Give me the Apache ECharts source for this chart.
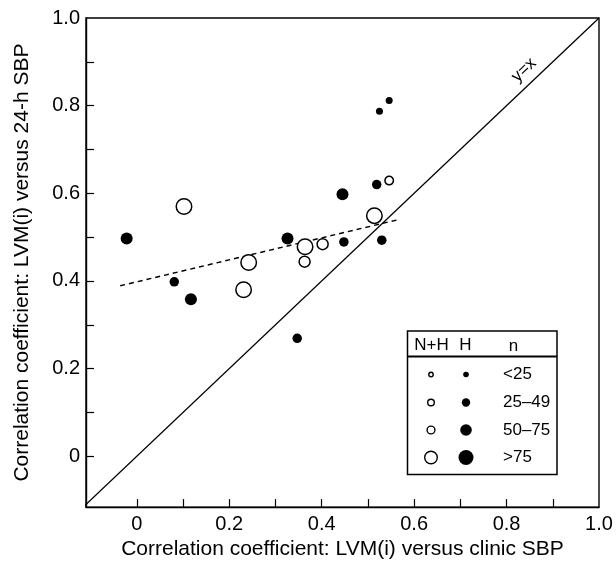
<!DOCTYPE html>
<html><head><meta charset="utf-8">
<script src="https://cdn.jsdelivr.net/npm/echarts@6/dist/echarts.min.js"></script>
<style>html,body{margin:0;padding:0;background:#fff}#c{width:616px;height:565px}</style>
</head><body><div id="c"></div>
<script>
// ---- data ----
const sizeClasses = ['<25', '25–49', '50–75', '>75'];
// Hypertensive (H) studies: filled circles
const hX = [-0.022, 0.081, 0.117, 0.326, 0.445, 0.448, 0.347, 0.519, 0.525, 0.546, 0.530];
const hY = [0.497, 0.398, 0.358, 0.497, 0.598, 0.489, 0.269, 0.620, 0.787, 0.812, 0.493];
const hN = ['50–75', '25–49', '50–75', '50–75', '50–75', '25–49', '25–49', '25–49', '<25', '<25', '25–49'];
// Normotensive + hypertensive (N+H) studies: open circles
const nhX = [0.102, 0.242, 0.231, 0.364, 0.363, 0.402, 0.514, 0.546];
const nhY = [0.570, 0.442, 0.380, 0.478, 0.444, 0.484, 0.549, 0.629];
const nhN = ['>75', '>75', '>75', '>75', '50–75', '50–75', '>75', '25–49'];
// regression (dashed) line endpoints
const regX = [-0.036, 0.566];
const regY = [0.389, 0.540];
// identity line
const idX = [-0.12, 1.0];
const idY = [-0.12, 1.0];
// axis ticks / labels
const xTicks = [0, 0.1, 0.2, 0.3, 0.4, 0.5, 0.6, 0.7, 0.8, 0.9];
const yTicks = [0, 0.1, 0.2, 0.3, 0.4, 0.5, 0.6, 0.7, 0.8, 0.9];
const xLabels = [0, 0.2, 0.4, 0.6, 0.8, 1.0];
const yLabels = [0, 0.2, 0.4, 0.6, 0.8, 1.0];
const xTitle = 'Correlation coefficient: LVM(i) versus clinic SBP';
const yTitle = 'Correlation coefficient: LVM(i) versus 24-h SBP';

// ---- styles ----
const FONT = 'Liberation Sans, Arial, sans-serif';
const openSize = {'<25': 4.5, '25–49': 8.5, '50–75': 11, '>75': 15.5};
const filledSize = {'<25': 7, '25–49': 9.5, '50–75': 12, '>75': 15};
const legOpenR = [2.2, 3.3, 3.9, 6.3];
const legFilledR = [2.8, 4.2, 5.8, 7.5];
const fmt = v => (Math.abs(v) < 1e-9 ? '0' : v.toFixed(1));

const chart = echarts.init(document.getElementById('c'), null, {renderer: 'canvas'});

const legendRowsY = [374.5, 402.5, 430, 457.5];
const legendEls = [
  {type: 'rect', shape: {x: 407.5, y: 331, width: 149.5, height: 143.5},
   style: {fill: '#fff', stroke: '#000', lineWidth: 1.5}, z: 100},
  {type: 'line', shape: {x1: 407.5, y1: 356.5, x2: 557, y2: 356.5},
   style: {stroke: '#000', lineWidth: 2}, z: 101},
  {type: 'text', x: 431.5, y: 345, style: {text: 'N+H', font: '17px ' + FONT, fill: '#000', align: 'center', verticalAlign: 'middle'}, z: 101},
  {type: 'text', x: 465.5, y: 345, style: {text: 'H', font: '17px ' + FONT, fill: '#000', align: 'center', verticalAlign: 'middle'}, z: 101},
  {type: 'text', x: 513.5, y: 346, style: {text: 'n', font: '17px ' + FONT, fill: '#000', align: 'center', verticalAlign: 'middle'}, z: 101},
  {type: 'text', x: 524, y: 70, rotation: 0.763,
   style: {text: 'y=x', font: '17px ' + FONT, fill: '#000', align: 'center', verticalAlign: 'middle'}, z: 101}
];
sizeClasses.forEach((c, i) => {
  legendEls.push({type: 'circle', shape: {cx: 431, cy: legendRowsY[i], r: legOpenR[i]},
    style: {fill: '#fff', stroke: '#000', lineWidth: 1.4}, z: 101});
  legendEls.push({type: 'circle', shape: {cx: 466, cy: legendRowsY[i], r: legFilledR[i]},
    style: {fill: '#000'}, z: 101});
  legendEls.push({type: 'text', x: 503, y: legendRowsY[i],
    style: {text: c, font: '17px ' + FONT, fill: '#000', align: 'left', verticalAlign: 'middle'}, z: 101});
});

const axisCommon = {
  axisLine: {show: true, onZero: false, lineStyle: {color: '#000', width: 1.4}},
  axisTick: {show: true, inside: true, length: 8, lineStyle: {color: '#000', width: 1.2}},
  splitLine: {show: false},
  nameLocation: 'middle',
  nameTextStyle: {color: '#000', fontSize: 21, fontFamily: FONT}
};

chart.setOption({
  animation: false,
  backgroundColor: '#fff',
  grid: {left: 86, right: 17, top: 18, bottom: 56, show: true, borderColor: '#000', borderWidth: 1.4, containLabel: false},
  xAxis: Object.assign({}, axisCommon, {
    type: 'value', min: -0.11, max: 1.0,
    name: xTitle, nameGap: 29,
    axisTick: Object.assign({}, axisCommon.axisTick, {customValues: xTicks}),
    axisLabel: {customValues: xLabels, formatter: fmt, color: '#000', fontSize: 20, fontFamily: FONT, margin: 7,
      showMinLabel: true, showMaxLabel: true}
  }),
  yAxis: Object.assign({}, axisCommon, {
    type: 'value', min: -0.116, max: 1.0,
    name: yTitle, nameGap: 53,
    axisTick: Object.assign({}, axisCommon.axisTick, {customValues: yTicks}),
    axisLabel: {customValues: yLabels, formatter: fmt, color: '#000', fontSize: 20, fontFamily: FONT, margin: 6,
      showMinLabel: true, showMaxLabel: true}
  }),
  graphic: legendEls,
  series: [
    {type: 'line', data: idX.map((x, i) => [x, idY[i]]), symbol: 'none', clip: true,
     lineStyle: {color: '#000', width: 1.3}, z: 2, silent: true},
    {type: 'line', data: regX.map((x, i) => [x, regY[i]]), symbol: 'none', clip: true,
     lineStyle: {color: '#000', width: 1.4, type: [5, 4]}, z: 2, silent: true},
    {type: 'scatter', name: 'N+H', data: nhX.map((x, i) => [x, nhY[i], nhN[i]]),
     symbol: 'circle', symbolSize: v => openSize[v[2]],
     itemStyle: {color: '#fff', borderColor: '#000', borderWidth: 1.5, opacity: 1}, z: 3},
    {type: 'scatter', name: 'H', data: hX.map((x, i) => [x, hY[i], hN[i]]),
     symbol: 'circle', symbolSize: v => filledSize[v[2]],
     itemStyle: {color: '#000', opacity: 1}, z: 4}
  ]
});
</script>
</body></html>
